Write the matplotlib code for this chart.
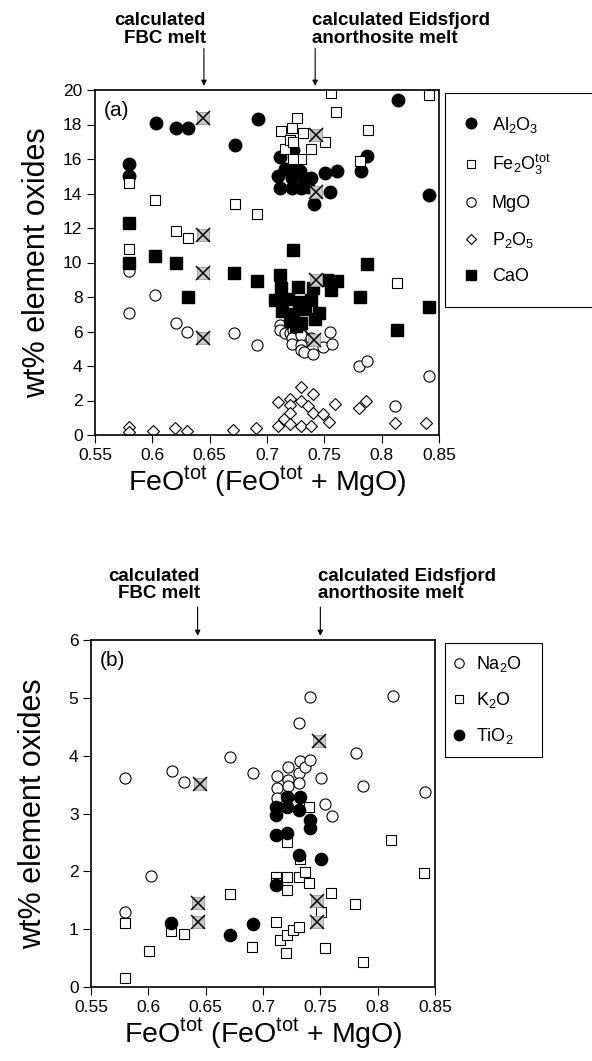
import matplotlib
matplotlib.use("Agg")
import matplotlib.pyplot as plt
from matplotlib.ticker import MultipleLocator, FormatStrFormatter

plt.rcParams['font.family'] = ['Liberation Sans', 'DejaVu Sans']
plt.rcParams['mathtext.fontset'] = 'custom'
plt.rcParams['mathtext.rm'] = 'Liberation Sans'
plt.rcParams['mathtext.it'] = 'Liberation Sans:italic'
plt.rcParams['mathtext.bf'] = 'Liberation Sans:bold'

# ---- panel (a): major oxides vs FeOtot/(FeOtot+MgO) ----
al2o3_x = [0.580, 0.580, 0.603, 0.621, 0.631, 0.672, 0.692, 0.711, 0.723, 0.710, 0.716,
           0.723, 0.729, 0.711, 0.722, 0.730, 0.722, 0.732, 0.738, 0.736, 0.741, 0.751,
           0.761, 0.755, 0.782, 0.787, 0.814, 0.841]
al2o3_y = [15.7, 15.0, 18.1, 17.8, 17.8, 16.8, 18.3, 16.1, 16.5, 15.0, 15.4,
           15.4, 15.3, 14.3, 14.3, 14.3, 14.9, 14.9, 14.9, 14.4, 13.4, 15.2,
           15.3, 14.1, 15.3, 16.2, 19.4, 13.9]

fe2o3_x = [0.580, 0.580, 0.602, 0.621, 0.631, 0.672, 0.691, 0.712, 0.716, 0.722, 0.720,
           0.723, 0.726, 0.731, 0.730, 0.723, 0.738, 0.751, 0.756, 0.760, 0.781, 0.788,
           0.813, 0.841]
fe2o3_y = [14.6, 10.8, 13.6, 11.8, 11.4, 13.4, 12.8, 17.6, 16.6, 17.8, 17.1,
           17.0, 18.4, 17.5, 16.0, 16.0, 16.6, 17.0, 19.8, 18.7, 15.9, 17.7,
           8.8, 19.7]

mgo_x = [0.580, 0.580, 0.602, 0.621, 0.630, 0.671, 0.691, 0.711, 0.711, 0.716, 0.720,
         0.723, 0.723, 0.722, 0.722, 0.730, 0.730, 0.730, 0.730, 0.732, 0.738, 0.740,
         0.749, 0.755, 0.757, 0.780, 0.787, 0.812, 0.841]
mgo_y = [9.5, 7.1, 8.1, 6.5, 6.0, 5.9, 5.2, 6.4, 6.1, 5.9, 5.9,
         6.1, 5.6, 5.6, 5.3, 5.9, 5.8, 5.2, 4.9, 4.8, 5.6, 4.7,
         5.1, 6.0, 5.3, 4.0, 4.3, 1.7, 3.4]

p2o5_x = [0.580, 0.580, 0.601, 0.620, 0.630, 0.670, 0.690, 0.710, 0.715, 0.720, 0.720,
          0.720, 0.730, 0.730, 0.740, 0.736, 0.740, 0.710, 0.720, 0.730, 0.738, 0.749,
          0.754, 0.759, 0.780, 0.786, 0.812, 0.839]
p2o5_y = [0.45, 0.15, 0.25, 0.40, 0.25, 0.30, 0.40, 1.9, 0.9, 2.1, 1.75,
          1.25, 2.8, 2.0, 2.4, 1.7, 1.25, 0.5, 0.65, 0.5, 0.55, 1.2,
          0.75, 1.8, 1.55, 1.95, 0.7, 0.7]

cao_x = [0.580, 0.580, 0.602, 0.621, 0.631, 0.671, 0.691, 0.711, 0.723, 0.712, 0.727,
         0.740, 0.707, 0.718, 0.728, 0.738, 0.713, 0.723, 0.733, 0.745, 0.720, 0.730,
         0.742, 0.725, 0.752, 0.761, 0.756, 0.781, 0.787, 0.813, 0.841]
cao_y = [12.3, 10.0, 10.4, 10.0, 8.0, 9.4, 8.9, 9.3, 10.7, 8.5, 8.6,
         8.5, 7.8, 7.9, 7.7, 7.8, 7.2, 7.0, 7.3, 7.1, 6.6, 6.5,
         6.7, 6.3, 9.0, 8.9, 8.4, 8.0, 9.9, 6.1, 7.4]

# calculated melt compositions (crossed symbols)
melt_a_x = [0.644, 0.644, 0.644, 0.644, 0.743, 0.743, 0.743, 0.741]
melt_a_y = [18.4, 11.6, 9.4, 5.6, 17.4, 14.1, 9.0, 5.5]

# ---- panel (b): minor oxides ----
na2o_x = [0.580, 0.580, 0.602, 0.621, 0.631, 0.671, 0.691, 0.712, 0.712, 0.712, 0.722,
          0.722, 0.722, 0.722, 0.731, 0.731, 0.731, 0.732, 0.737, 0.741, 0.741, 0.751,
          0.754, 0.760, 0.781, 0.787, 0.813, 0.841]
na2o_y = [3.61, 1.29, 1.92, 3.74, 3.55, 3.97, 3.70, 3.64, 3.44, 3.27, 3.80,
          3.58, 3.47, 3.29, 4.56, 3.70, 3.53, 3.90, 3.80, 5.02, 3.93, 3.61,
          3.17, 2.96, 4.04, 3.47, 5.04, 3.37]

k2o_x = [0.580, 0.580, 0.601, 0.620, 0.631, 0.671, 0.690, 0.711, 0.715, 0.720, 0.721,
         0.726, 0.731, 0.711, 0.711, 0.721, 0.721, 0.721, 0.731, 0.732, 0.737, 0.740,
         0.740, 0.759, 0.751, 0.780, 0.754, 0.787, 0.812, 0.840]
k2o_y = [1.11, 0.16, 0.63, 0.96, 0.91, 1.60, 0.69, 1.13, 0.81, 0.58, 0.90,
         0.99, 1.04, 1.91, 1.79, 1.91, 1.68, 2.51, 1.91, 2.21, 1.99, 1.80,
         3.12, 1.62, 1.29, 1.44, 0.68, 0.43, 2.54, 1.97]

tio2_x = [0.620, 0.671, 0.691, 0.711, 0.711, 0.721, 0.711, 0.711, 0.721, 0.721, 0.732,
          0.731, 0.741, 0.741, 0.731, 0.751]
tio2_y = [1.11, 0.90, 1.09, 1.76, 2.63, 2.66, 3.12, 2.98, 3.29, 3.12, 3.29,
          3.06, 2.89, 2.75, 2.28, 2.21]

melt_b_x = [0.645, 0.643, 0.643, 0.749, 0.747, 0.747]
melt_b_y = [3.51, 1.45, 1.13, 4.25, 1.48, 1.13]

# positions of the calculated melts marked by arrows
FBC_A, EIDS_A = 0.645, 0.742
FBC_B, EIDS_B = 0.643, 0.750

W, H = 592, 1061


def style_axes(ax, ymax, ystep, tag):
    ax.set_xlim(0.55, 0.85)
    ax.set_ylim(0, ymax)
    ax.xaxis.set_major_locator(MultipleLocator(0.05))
    ax.xaxis.set_major_formatter(FormatStrFormatter('%g'))
    ax.yaxis.set_major_locator(MultipleLocator(ystep))
    ax.tick_params(direction='out', length=6, width=0.8, labelsize=12.5, pad=3)
    for s in ax.spines.values():
        s.set_linewidth(1.2)
    ax.set_xlabel(r'FeO$^{\rm tot}$ (FeO$^{\rm tot}$ + MgO)', fontsize=20.5)
    ax.xaxis.set_label_coords(0.5, -0.085)
    ax.set_ylabel('wt% element oxides', fontsize=22)
    ax.yaxis.set_label_coords(-0.125, 0.5)
    ax.text(0.025, 0.94, tag, transform=ax.transAxes, fontsize=15, va='center')


def melt_arrows(ax, x_fbc, x_eids, tail, lift):
    for x, txt, ha, dx in [(x_fbc, 'calculated\nFBC melt', 'right', 1.5),
                           (x_eids, 'calculated Eidsfjord\nanorthosite melt', 'left', -2)]:
        ax.annotate('', xy=(x, 1.012), xycoords=('data', 'axes fraction'),
                    xytext=(x, tail), textcoords=('data', 'axes fraction'),
                    arrowprops=dict(arrowstyle='-|>', lw=0.8, color='black',
                                    mutation_scale=8, shrinkA=0, shrinkB=0))
        ax.annotate(txt, xy=(x, 1.0), xycoords=('data', 'axes fraction'),
                    xytext=(dx, lift), textcoords='offset points', ha=ha, va='bottom',
                    fontsize=13.5, fontweight='bold', linespacing=1.05)


def crossed(ax, x, y):
    ax.plot(x, y, ls='none', marker='s', ms=8.5, mfc='#c8c8c8', mec='#9a9a9a', mew=0.6, zorder=5)
    ax.plot(x, y, ls='none', marker='x', ms=9.5, mec='black', mew=1.1, zorder=6)


fig = plt.figure(figsize=(W / 100, H / 100), dpi=100)

# panel (a)
ax_a = fig.add_axes([95 / W, 1 - 435 / H, 344 / W, 345 / H])
ax_a.plot(al2o3_x, al2o3_y, ls='none', marker='o', ms=9, mfc='black', mec='black',
          label=r'Al$_2$O$_3$')
ax_a.plot(fe2o3_x, fe2o3_y, ls='none', marker='s', ms=7.3, mfc='white', mec='black', mew=0.8,
          label=r'Fe$_2$O$_3^{\rm tot}$')
ax_a.plot(mgo_x, mgo_y, ls='none', marker='o', ms=8, mfc='white', mec='black', mew=0.8,
          label='MgO')
ax_a.plot(p2o5_x, p2o5_y, ls='none', marker='D', ms=5.8, mfc='white', mec='black', mew=0.8,
          label=r'P$_2$O$_5$')
ax_a.plot(cao_x, cao_y, ls='none', marker='s', ms=9.3, mfc='black', mec='black',
          label='CaO')
crossed(ax_a, melt_a_x, melt_a_y)
style_axes(ax_a, 20, 2, '(a)')
melt_arrows(ax_a, FBC_A, EIDS_A, 1.12, 31)
leg_a = ax_a.legend(loc='upper left', mode='expand',
                    bbox_to_anchor=(445 / W, 1 - 307 / H, 160 / W, 214 / H),
                    bbox_transform=fig.transFigure, borderaxespad=0, fontsize=13,
                    numpoints=1, handlelength=0.5, handletextpad=0.9, borderpad=1.2,
                    labelspacing=1.0, markerscale=0.85, fancybox=False, framealpha=1,
                    edgecolor='black')
leg_a.get_frame().set_linewidth(0.8)

# panel (b)
ax_b = fig.add_axes([91 / W, 1 - 987 / H, 344 / W, 347 / H])
ax_b.plot(na2o_x, na2o_y, ls='none', marker='o', ms=8, mfc='white', mec='black', mew=0.8,
          label=r'Na$_2$O')
ax_b.plot(k2o_x, k2o_y, ls='none', marker='s', ms=7.3, mfc='white', mec='black', mew=0.8,
          label=r'K$_2$O')
ax_b.plot(tio2_x, tio2_y, ls='none', marker='o', ms=8.8, mfc='black', mec='black',
          label=r'TiO$_2$')
crossed(ax_b, melt_b_x, melt_b_y)
style_axes(ax_b, 6, 1, '(b)')
melt_arrows(ax_b, FBC_B, EIDS_B, 1.095, 27)
leg_b = ax_b.legend(loc='upper left', mode='expand',
                    bbox_to_anchor=(445 / W, 1 - 763 / H, 97 / W, 120 / H),
                    bbox_transform=fig.transFigure, borderaxespad=0, fontsize=13,
                    numpoints=1, handlelength=0.35, handletextpad=0.75, borderpad=0.6,
                    labelspacing=0.9, markerscale=0.85, fancybox=False, framealpha=1,
                    edgecolor='black')
leg_b.get_frame().set_linewidth(0.8)

fig.savefig('out.png', dpi=100)
